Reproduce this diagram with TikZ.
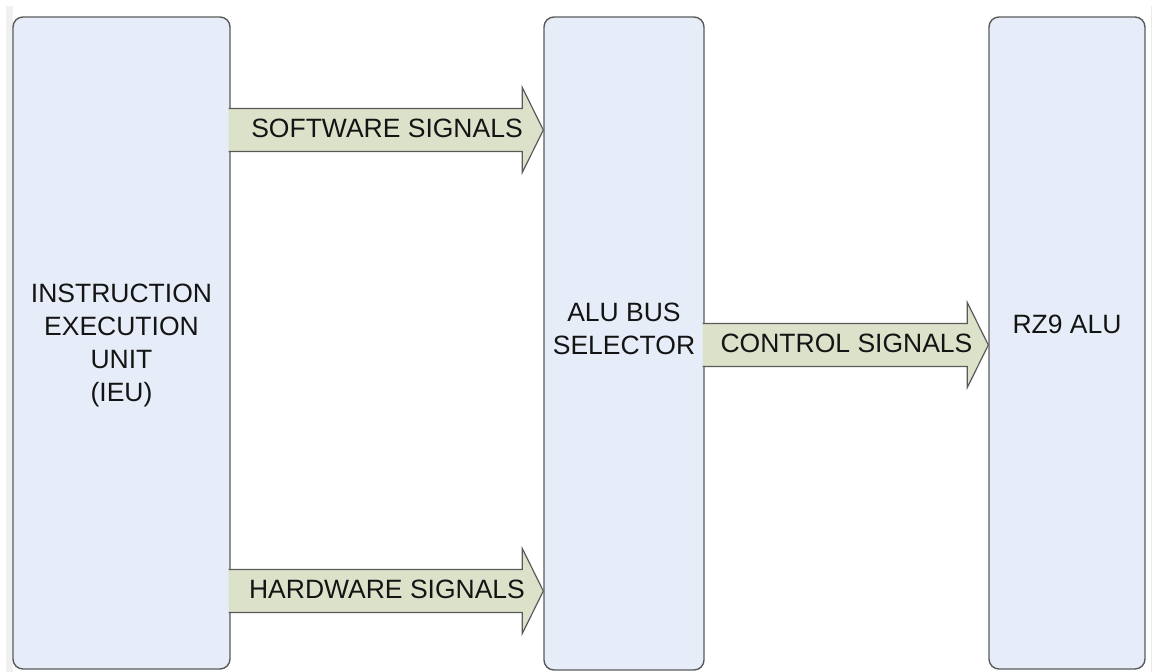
\documentclass[tikz,border=0pt]{standalone}
\usepackage{fontspec}
\setmainfont{Liberation Sans}
\usetikzlibrary{calc}
\definecolor{boxfill}{HTML}{E6EDF8}
\definecolor{arrfill}{HTML}{DCE2CA}
\definecolor{edgegrey}{HTML}{5A5A5A}
\tikzset{
  unitbox/.style={draw=edgegrey, fill=boxfill, line width=1.4pt, rounded corners=10pt, inner sep=0pt},
  lbl/.style={font=\fontsize{26.5}{33}\selectfont, align=center, inner sep=0pt, text=black!92},
  fatfill/.style={fill=arrfill},
  fatline/.style={draw=edgegrey, line width=1.2pt, line join=miter},
}
% #1 start, #2 tip, #3 label, #4 label name, #5 label yshift
\newcommand\fatarrow[5]{%
  \fill[fatfill] ($(#1)+(-2,-21.5)$) -- ($(#2)+(-21,-21.5)$) -- ($(#2)+(-21,-42.5)$) -- (#2)
     -- ($(#2)+(-21,42.5)$) -- ($(#2)+(-21,21.5)$) -- ($(#1)+(-2,21.5)$) -- cycle;
  \draw[fatline] ($(#1)+(-2,-21.5)$) -- ($(#2)+(-21,-21.5)$) -- ($(#2)+(-21,-42.5)$) -- (#2)
     -- ($(#2)+(-21,42.5)$) -- ($(#2)+(-21,21.5)$) -- ($(#1)+(-2,21.5)$);
  \node[lbl, yshift=#5] (#4) at ($(#1)!0.5!(#2)$) {#3};}
\begin{document}
\begin{tikzpicture}[x=1pt, y=-1pt]
  \useasboundingbox (0,0) rectangle (1152,672);
  \fill[black!6] (6,6) rectangle (13,672);
  \fill[black!8] (1150.5,6) rectangle (1152,672);

  \node[unitbox, minimum width=217pt, minimum height=652pt] (ieu) at (121.5,343) {};
  \node[unitbox, minimum width=160pt, minimum height=653pt] (bus) at (624,343.5) {};
  \node[unitbox, minimum width=156pt, minimum height=652pt] (alu) at (1067,343) {};

  \node[lbl] (ieuT) at (121.5,345) {INSTRUCTION\\EXECUTION\\UNIT\\(IEU)};
  \node[lbl] (busT) at (624,329) {ALU BUS\\SELECTOR};
  \node[lbl] (aluT) at (1067,324) {RZ9 ALU};

  \coordinate (sw0) at (ieu.east |- 0,130);
  \coordinate (sw1) at (bus.west |- 0,130);
  \coordinate (hw0) at (ieu.east |- 0,591);
  \coordinate (hw1) at (bus.west |- 0,591);
  \coordinate (cs0) at (bus.east |- 0,345);
  \coordinate (cs1) at (alu.west |- 0,345);

  \fatarrow{sw0}{sw1}{SOFTWARE SIGNALS}{swT}{2pt}
  \fatarrow{hw0}{hw1}{HARDWARE SIGNALS}{hwT}{1.5pt}
  \fatarrow{cs0}{cs1}{CONTROL SIGNALS}{csT}{2pt}
\end{tikzpicture}
\end{document}
